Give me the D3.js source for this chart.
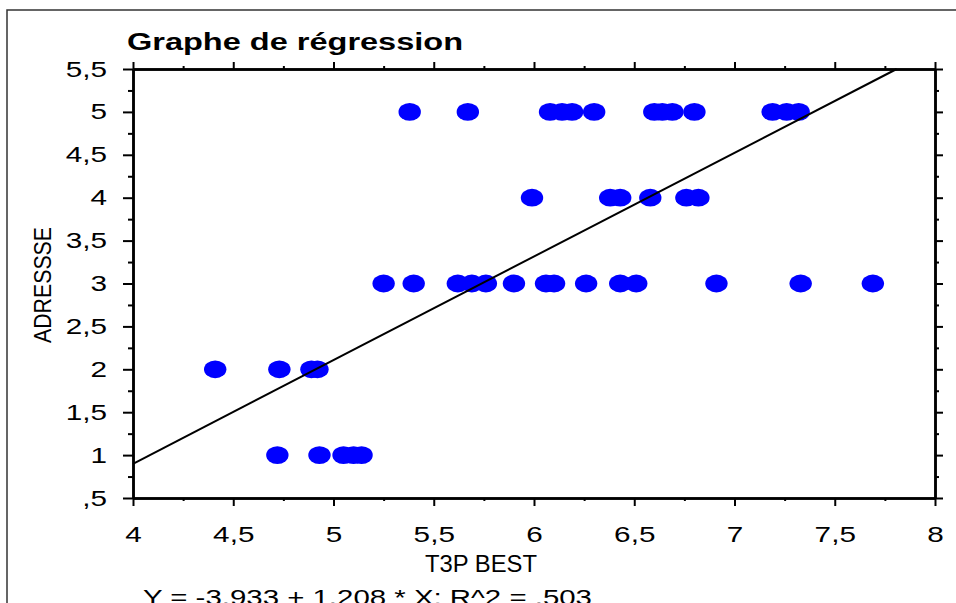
<!DOCTYPE html>
<html lang="fr">
<head>
<meta charset="utf-8">
<title>Graphe de régression</title>
<script src="https://d3js.org/d3.v7.min.js"></script>
<style>
  body { margin: 0; background: #fff; }
  svg { display: block; }
  text { font-family: Arial, "Liberation Sans", sans-serif; fill: #000; }
  .axis path, .axis line { stroke: #000; }
</style>
</head>
<body>
<svg id="chart"></svg>
<script>
// valeurs (X = T3P BEST, Y = ADRESSSE)
const row5 = [5.38, 5.67, 6.08, 6.14, 6.19, 6.30, 6.60, 6.64, 6.69, 6.80, 7.19, 7.26, 7.32];
const row4 = [5.99, 6.38, 6.43, 6.58, 6.76, 6.82];
const row3 = [5.25, 5.40, 5.62, 5.69, 5.76, 5.90, 6.06, 6.10, 6.26, 6.43, 6.51, 6.91, 7.33, 7.69];
const row2 = [4.41, 4.73, 4.89, 4.92];
const row1 = [4.72, 4.93, 5.05, 5.10, 5.14];
const rowLevels = [5, 4, 3, 2, 1];

const intercept = -3.933;
const slope = 1.208;

const xTicks = [4, 4.5, 5, 5.5, 6, 6.5, 7, 7.5, 8];
const xMinor = [4.25, 4.75, 5.25, 5.75, 6.25, 6.75, 7.25, 7.75];
const yTicks = [0.5, 1, 1.5, 2, 2.5, 3, 3.5, 4, 4.5, 5, 5.5];
const yMinor = [0.75, 1.25, 1.75, 2.25, 2.75, 3.25, 3.75, 4.25, 4.75, 5.25];

const title = "Graphe de régression";
const xLabel = "T3P BEST";
const yLabel = "ADRESSSE";
const equation = "Y = -3.933 + 1.208 * X; R^2 = .503";

const width = 956, height = 603;
const svg = d3.select("#chart").attr("width", width).attr("height", height);

// cadre extérieur
svg.append("rect")
  .attr("x", 7).attr("y", 10).attr("width", 980).attr("height", 700)
  .attr("fill", "none").attr("stroke", "#333").attr("stroke-width", 1.5);

const x = d3.scaleLinear().domain([4, 8]).range([133, 935]);
const y = d3.scaleLinear().domain([0.5, 5.5]).range([498, 69]);

// format à la française : 4,5  et ,5
const fmt = d => {
  let s = String(d).replace(".", ",");
  return s.startsWith("0,") ? s.slice(1) : s;
};

// étire un texte horizontalement
function stretch(sel, k) {
  sel.each(function () {
    const w = this.getComputedTextLength();
    d3.select(this).attr("textLength", w * k).attr("lengthAdjust", "spacingAndGlyphs");
  });
}

function axis(gen, tr, vals, size, fmtFn, pad) {
  const g = svg.append("g").attr("class", "axis").attr("transform", tr)
    .call(gen.tickValues(vals).tickSizeInner(size).tickSizeOuter(0)
      .tickPadding(pad || 3).tickFormat(fmtFn || (() => "")));
  g.select(".domain").attr("stroke-width", 2.5);
  g.selectAll(".tick line").attr("stroke-width", 2);
  return g;
}

// axes (graduations majeures et mineures)
const bottom = axis(d3.axisBottom(x), `translate(0,${y(0.5)})`, xTicks, 8, fmt, 20);
axis(d3.axisBottom(x), `translate(0,${y(0.5)})`, xMinor, 3);
axis(d3.axisTop(x), `translate(0,${y(5.5)})`, xTicks, 7);
axis(d3.axisTop(x), `translate(0,${y(5.5)})`, xMinor, 3);
const left = axis(d3.axisLeft(y), `translate(${x(4)},0)`, yTicks, 10, fmt, 16);
axis(d3.axisLeft(y), `translate(${x(4)},0)`, yMinor, 5);
axis(d3.axisRight(y), `translate(${x(8)},0)`, yTicks, 8);
axis(d3.axisRight(y), `translate(${x(8)},0)`, yMinor, 4);

bottom.selectAll("text").attr("font-size", 22).call(stretch, 1.35);
left.selectAll("text").attr("font-size", 22).call(stretch, 1.35);

// points
const points = [];
[row5, row4, row3, row2, row1].forEach((row, i) => {
  row.forEach(v => points.push({ x: v, y: rowLevels[i] }));
});

svg.append("g").selectAll("ellipse")
  .data(points)
  .enter().append("ellipse")
  .attr("cx", d => x(d.x))
  .attr("cy", d => y(d.y))
  .attr("rx", 11.2)
  .attr("ry", 8.9)
  .attr("fill", "#0000ff");

// droite de régression
const xEnd = (5.5 - intercept) / slope;
svg.append("line")
  .attr("x1", x(4)).attr("y1", y(intercept + slope * 4))
  .attr("x2", x(xEnd)).attr("y2", y(5.5))
  .attr("stroke", "#000").attr("stroke-width", 2);

// textes
svg.append("text")
  .attr("x", 127).attr("y", 50)
  .attr("font-size", 23).attr("font-weight", "bold")
  .attr("textLength", 336).attr("lengthAdjust", "spacingAndGlyphs")
  .text(title);

svg.append("text")
  .attr("x", 425).attr("y", 572)
  .attr("font-size", 24)
  .attr("textLength", 112).attr("lengthAdjust", "spacingAndGlyphs")
  .text(xLabel);

svg.append("text")
  .attr("transform", "translate(51,285) rotate(-90)")
  .attr("text-anchor", "middle")
  .attr("font-size", 23)
  .attr("textLength", 116).attr("lengthAdjust", "spacingAndGlyphs")
  .text(yLabel);

svg.append("text")
  .attr("x", 143).attr("y", 605)
  .attr("font-size", 22)
  .attr("textLength", 449).attr("lengthAdjust", "spacingAndGlyphs")
  .text(equation);
</script>
</body>
</html>
